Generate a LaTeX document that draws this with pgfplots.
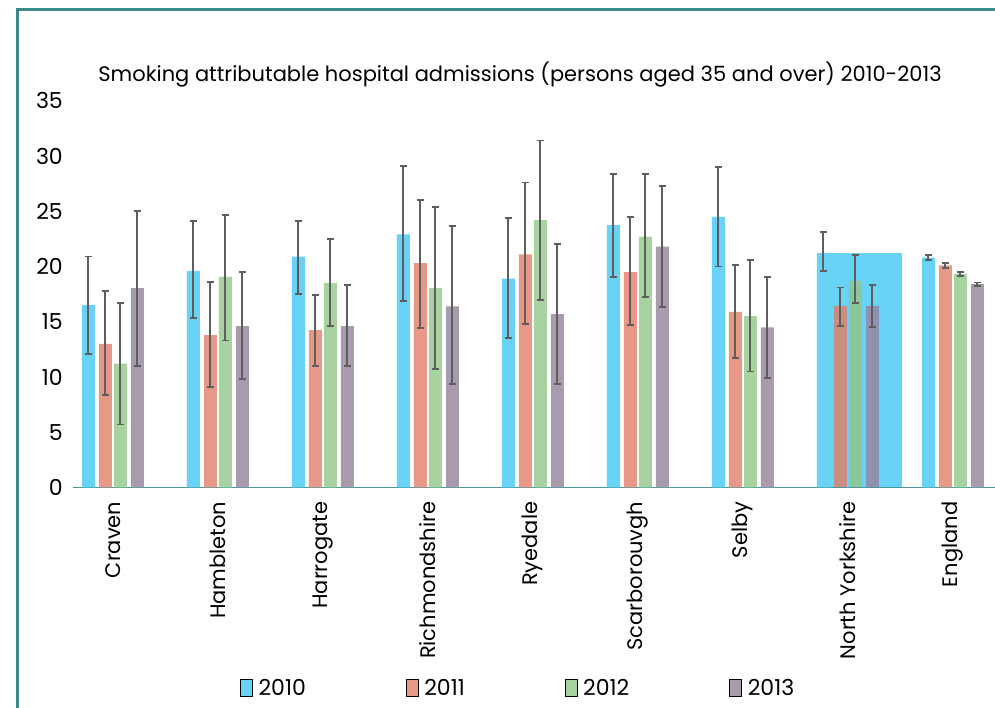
\documentclass[border=0pt]{standalone}
\usepackage{fontspec}
\setmainfont{Poppins}
\usepackage{pgfplots}
\pgfplotsset{compat=1.18}
\usepackage{pgfplotstable}
\definecolor{c10}{HTML}{68D3F6}
\definecolor{c11}{HTML}{E89886}
\definecolor{c12}{HTML}{A8D3A0}
\definecolor{c13}{HTML}{A99BAE}
\definecolor{d11}{HTML}{C98E80}
\definecolor{d12}{HTML}{8AC79C}
\definecolor{d13}{HTML}{8E92AE}
\definecolor{frame}{HTML}{3A8A88}
\definecolor{base}{HTML}{4A9A9A}
\definecolor{errc}{HTML}{5E5E5E}

\pgfplotstableread{
x y ep em
0 16.5 4.4 4.4
1 19.6 4.5 4.3
2 20.9 3.2 3.4
3 22.9 6.2 6.0
4 18.9 5.5 5.4
5 23.75 4.65 4.7
6 24.5 4.5 4.5
7 21.2 1.9 1.6
8 20.8 0.2 0.2
}\tA
\pgfplotstableread{
x y ep em
0 13.0 4.8 4.6
1 13.8 4.8 4.7
2 14.25 3.15 3.25
3 20.3 5.7 5.9
4 21.1 6.5 6.3
5 19.5 5.0 4.8
6 15.9 4.2 4.2
8 20.1 0.2 0.2
}\tB
\pgfplotstableread{
x y ep em
0 11.2 5.5 5.5
1 19.05 5.65 5.75
2 18.5 4.0 3.9
3 18.05 7.35 7.35
4 24.2 7.2 7.2
5 22.7 5.7 5.5
6 15.5 5.1 5.0
8 19.3 0.2 0.2
}\tC
\pgfplotstableread{
x y ep em
0 18.05 6.95 7.05
1 14.6 4.9 4.8
2 14.6 3.7 3.6
3 16.4 7.3 7.0
4 15.7 6.3 6.3
5 21.8 5.5 5.5
6 14.5 4.55 4.6
8 18.4 0.15 0.15
}\tD
\pgfplotstableread{
x y ep em
7 16.4 1.7 1.8
}\nB
\pgfplotstableread{
x y ep em
7 18.7 2.3 2.0
}\nC
\pgfplotstableread{
x y ep em
7 16.4 1.9 1.9
}\nD

\pgfplotsset{
  mybar/.style={ybar, bar width=13pt, bar shift=0pt, draw=none, forget plot,
    error bars/y dir=both, error bars/y explicit,
    error bars/error bar style={line width=1.9pt, color=errc},
    error bars/error mark options={rotate=90, mark size=3.4pt, line width=1.9pt, color=errc}},
}

\begin{document}
\begin{tikzpicture}
\useasboundingbox (0pt,0pt) rectangle (995pt,708pt);
\draw[frame, line width=3pt] (17pt,-2pt) -- (17pt,698pt) -- (1000pt,698pt);
\node[anchor=base, font=\fontsize{21}{24}\selectfont] at (520pt,626pt)
  {Smoking attributable hospital admissions (persons aged 35 and over) 2010-2013};
\begin{axis}[
  at={(73pt,220.5pt)}, anchor=south west,
  scale only axis, width=924pt, height=386.75pt,
  xmin=-0.38, xmax=8.42, ymin=0, ymax=35,
  axis x line=bottom, axis y line=left,
  x axis line style={-, color=base, line width=1pt},
  y axis line style={draw=none},
  major tick length=0pt,
  xtick={0,...,8},
  xticklabels={Craven,Hambleton,Harrogate,Richmondshire,Ryedale,Scarborouvgh,Selby,North Yorkshire,England},
  xticklabel style={rotate=90, anchor=east, inner sep=0pt, font=\fontsize{21}{24}\selectfont},
  xticklabel shift=14pt,
  ytick={0,5,...,35},
  yticklabel style={inner sep=0pt, xshift=-10pt, font=\fontsize{22}{26}\selectfont},
  /pgf/number format/assume math mode=true,
  clip=false,
  legend image code/.code={\fill[#1] (0pt,-8pt) rectangle (12pt,9pt);},
  legend style={at={(0.1807,-0.518)}, anchor=west, draw=none, fill=none,
    legend columns=4, font=\fontsize{22}{26}\selectfont,
    /tikz/every odd column/.append style={column sep=4pt},
    /tikz/every even column/.append style={column sep=98pt},
    inner sep=0pt},
]
\addplot[ybar, bar width=85pt, bar shift=11.5pt, fill=c10, draw=none, forget plot] coordinates {(7,21.2)};
\addplot[mybar, fill=c10] table[x expr=\thisrow{x}-0.2333,y=y,y error plus=ep,y error minus=em]{\tA};
\addplot[mybar, fill=c11] table[x expr=\thisrow{x}-0.0714,y=y,y error plus=ep,y error minus=em]{\tB};
\addplot[mybar, fill=d11] table[x expr=\thisrow{x}-0.0714,y=y,y error plus=ep,y error minus=em]{\nB};
\addplot[mybar, fill=c12] table[x expr=\thisrow{x}+0.0714,y=y,y error plus=ep,y error minus=em]{\tC};
\addplot[mybar, fill=d12] table[x expr=\thisrow{x}+0.0714,y=y,y error plus=ep,y error minus=em]{\nC};
\addplot[mybar, fill=c13] table[x expr=\thisrow{x}+0.2333,y=y,y error plus=ep,y error minus=em]{\tD};
\addplot[mybar, fill=d13] table[x expr=\thisrow{x}+0.2333,y=y,y error plus=ep,y error minus=em]{\nD};
\addlegendimage{fill=c10}\addlegendentry{2010}
\addlegendimage{fill=c11}\addlegendentry{2011}
\addlegendimage{fill=c12}\addlegendentry{2012}
\addlegendimage{fill=c13}\addlegendentry{2013}
\end{axis}
\end{tikzpicture}
\end{document}
